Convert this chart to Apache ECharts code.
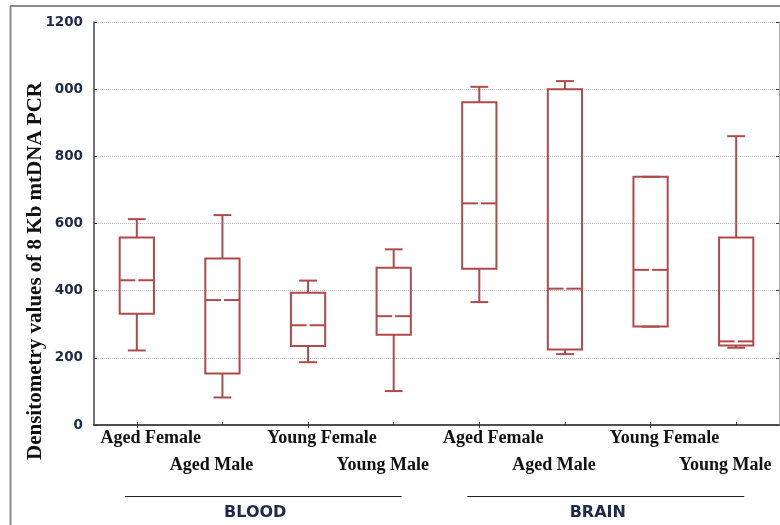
<!DOCTYPE html>
<html><head><meta charset="utf-8">
<script src="https://cdn.jsdelivr.net/npm/echarts@6/dist/echarts.min.js"></script>
<style>html,body{margin:0;padding:0;background:#fff}#c{width:780px;height:525px}</style>
</head><body><div id="c"></div>
<script>
const categories = ['Aged Female','Aged Male','Young Female','Young Male','Aged Female','Aged Male','Young Female','Young Male'];
const groups = ['BLOOD','BRAIN'];
const groupSize = 4;
const whiskerLow  = [222,  82, 187, 101,  366,  211, 293, 230];
const q1          = [331, 153, 235, 269,  465,  225, 293, 237];
const median      = [431, 372, 297, 324,  660,  406, 462, 249];
const q3          = [558, 496, 394, 468,  961, 1000, 739, 558];
const whiskerHigh = [613, 625, 430, 523, 1007, 1024, 739, 860];
const yTickLabels = ['0','200','400','600','800','000','1200'];
const yTitle = 'Densitometry values of 8 Kb mtDNA PCR';

const BOX = '#b04a4a';
const serif = "'Liberation Serif','Times New Roman',serif";

const boxData = categories.map((c, i) => [i, whiskerLow[i], q1[i], median[i], q3[i], whiskerHigh[i]]);

function renderItem(params, api) {
  const i = api.value(0);
  const pLo = api.coord([i, api.value(1)]);
  const pQ1 = api.coord([i, api.value(2)]);
  const pMd = api.coord([i, api.value(3)]);
  const pQ3 = api.coord([i, api.value(4)]);
  const pHi = api.coord([i, api.value(5)]);
  const band = api.size([1, 0])[0];
  const bw = band * 0.4, cw = bw * 0.52, gap = 3;
  const x = pLo[0];
  const st = {stroke: BOX, lineWidth: 2, fill: 'transparent'};
  const line = (x1, y1, x2, y2) => ({type: 'line', shape: {x1, y1, x2, y2}, style: st});
  return {
    type: 'group',
    children: [
      line(x, pLo[1], x, pQ1[1]),
      line(x - cw / 2, pLo[1], x + cw / 2, pLo[1]),
      line(x, pHi[1], x, pQ3[1]),
      line(x - cw / 2, pHi[1], x + cw / 2, pHi[1]),
      {type: 'rect', shape: {x: x - bw / 2, y: pQ3[1], width: bw, height: pQ1[1] - pQ3[1]}, style: st},
      line(x - bw / 2, pMd[1], x - gap / 2, pMd[1]),
      line(x + gap / 2, pMd[1], x + bw / 2, pMd[1])
    ]
  };
}

const axisLineStyle = {color: '#444', width: 1.5};
const option = {
  animation: false,
  backgroundColor: '#fff',
  grid: {left: 94, top: 22, right: 1, bottom: 100, containLabel: false},
  xAxis: [{
    type: 'category', data: categories, position: 'bottom', boundaryGap: true,
    axisLine: {show: true, lineStyle: axisLineStyle},
    axisTick: {show: true, inside: true, alignWithLabel: true, length: 3, lineStyle: {color: '#333'}},
    splitLine: {show: false},
    axisLabel: {
      interval: 0, margin: 4, hideOverlap: false,
      formatter: (v, idx) => idx % 2 === 0 ? '{f|' + v + '}' : '{m|' + v + '}',
      rich: {
        f: {fontFamily: serif, fontWeight: 'bold', fontSize: 18, color: '#111', padding: [0, 0, 0, 28]},
        m: {fontFamily: serif, fontWeight: 'bold', fontSize: 18, color: '#111', padding: [27, 22, 0, 0]}
      }
    }
  }, {
    type: 'category', data: categories, position: 'top', boundaryGap: true,
    axisLine: {show: true, lineStyle: axisLineStyle},
    axisTick: {show: true, inside: true, alignWithLabel: true, length: 3, lineStyle: {color: '#333'}},
    axisLabel: {show: false}, splitLine: {show: false}
  }],
  yAxis: [{
    type: 'value', min: 0, max: 1200, interval: 200,
    axisLine: {show: true, lineStyle: axisLineStyle},
    axisTick: {show: true, inside: true, length: 3, lineStyle: {color: '#333'}},
    splitLine: {show: true, lineStyle: {type: 'dotted', color: '#c4c4c4', width: 1}},
    axisLabel: {
      margin: 11, color: '#1e2a4a', fontFamily: "'DejaVu Sans',Verdana,sans-serif", fontWeight: 'bold', fontSize: 13.5,
      formatter: v => yTickLabels[Math.round(v / 200)]
    }
  }, {
    type: 'value', min: 0, max: 1200, interval: 200, position: 'right',
    axisLine: {show: true, lineStyle: {color: '#aaa', width: 1}},
    axisTick: {show: true, inside: true, length: 3, lineStyle: {color: '#333'}},
    axisLabel: {show: false}, splitLine: {show: false}
  }],
  series: [{
    type: 'custom', xAxisIndex: 0, yAxisIndex: 0,
    renderItem, data: boxData,
    encode: {x: 0, y: [1, 2, 3, 4, 5]}
  }]
};

const chart = echarts.init(document.getElementById('c'), null, {renderer: 'canvas'});
chart.setOption(option);

const gfx = [
  {type: 'line', shape: {x1: 10, y1: 6, x2: 780, y2: 6}, style: {stroke: '#8a8a8a', lineWidth: 2}},
  {type: 'line', shape: {x1: 10.5, y1: 6, x2: 10.5, y2: 525}, style: {stroke: '#8a8a8a', lineWidth: 2}},
  {type: 'text', x: 36, y: 271, rotation: Math.PI / 2,
   style: {text: yTitle, align: 'center', verticalAlign: 'middle', font: 'bold 21px ' + serif, fill: '#111'}}
];
groups.forEach((g, gi) => {
  const a = chart.convertToPixel({xAxisIndex: 0}, gi * groupSize);
  const b = chart.convertToPixel({xAxisIndex: 0}, gi * groupSize + groupSize - 1);
  const x1 = a - 12, x2 = b + 8;
  gfx.push({type: 'line', shape: {x1, y1: 496.5, x2, y2: 496.5}, style: {stroke: '#222', lineWidth: 1}});
  gfx.push({type: 'text', x: (x1 + x2) / 2 - 8, y: 513,
    style: {text: g, align: 'center', verticalAlign: 'middle', font: "bold 16px 'DejaVu Sans',sans-serif", fill: '#1e2a4a'}});
});
chart.setOption({graphic: gfx});
</script></body></html>
